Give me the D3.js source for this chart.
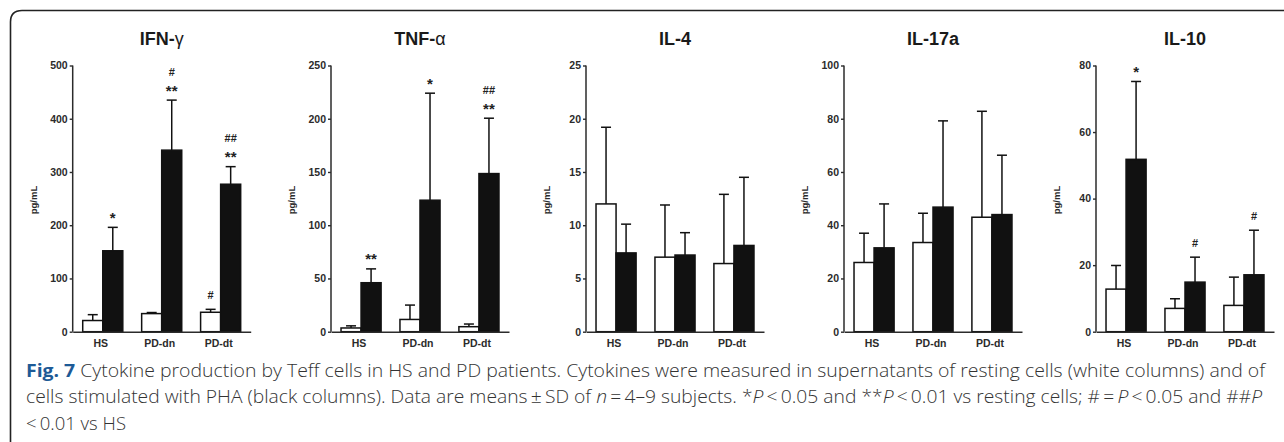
<!DOCTYPE html>
<html>
<head>
<meta charset="utf-8">
<script src="https://cdn.jsdelivr.net/npm/d3@7"></script>
<style>
  body { margin: 0; background: #fff; }
  svg { display: block; }
</style>
</head>
<body>
<div id="chart"></div>
<script>
// categories
const GROUPS = ["HS", "PD-dn", "PD-dt"];
const SERIES = ["rest", "pha"];

// IFN-gamma (pg/mL), mean and SD
const IFNG_REST = [21, 34, 36.5];
const IFNG_REST_SD = [11, 2, 5.5];
const IFNG_PHA = [152, 341, 277];
const IFNG_PHA_SD = [44, 94, 33];
const IFNG_TICKS = [0, 100, 200, 300, 400, 500];

// TNF-alpha
const TNF_REST = [3.5, 11.5, 4.7];
const TNF_REST_SD = [2, 13.5, 2.5];
const TNF_PHA = [46, 123.5, 148.5];
const TNF_PHA_SD = [13, 100.5, 52];
const TNF_TICKS = [0, 50, 100, 150, 200, 250];

// IL-4
const IL4_REST = [12, 7, 6.4];
const IL4_REST_SD = [7.2, 4.9, 6.5];
const IL4_PHA = [7.4, 7.2, 8.1];
const IL4_PHA_SD = [2.7, 2.1, 6.4];
const IL4_TICKS = [0, 5, 10, 15, 20, 25];

// IL-17a
const IL17_REST = [26, 33.5, 43];
const IL17_REST_SD = [11, 11, 39.8];
const IL17_PHA = [31.5, 46.8, 44];
const IL17_PHA_SD = [16.5, 32.4, 22.3];
const IL17_TICKS = [0, 20, 40, 60, 80, 100];

// IL-10
const IL10_REST = [12.8, 7, 7.9];
const IL10_REST_SD = [7.1, 2.9, 8.5];
const IL10_PHA = [51.8, 14.9, 17.1];
const IL10_PHA_SD = [23.4, 7.5, 13.4];
const IL10_TICKS = [0, 20, 40, 60, 80];

// significance marks: [group index, series, labels from bottom up]
const IFNG_MARKS = [[0, "pha", ["*"]], [1, "pha", ["**", "#"]], [2, "rest", ["#"]], [2, "pha", ["**", "##"]]];
const TNF_MARKS = [[0, "pha", ["**"]], [1, "pha", ["*"]], [2, "pha", ["**", "##"]]];
const IL4_MARKS = [];
const IL17_MARKS = [];
const IL10_MARKS = [[0, "pha", ["*"]], [1, "pha", ["#"]], [2, "pha", ["#"]]];

const panels = [
    { title: ["IFN-", "γ"], rest: IFNG_REST, restSd: IFNG_REST_SD, pha: IFNG_PHA, phaSd: IFNG_PHA_SD, ticks: IFNG_TICKS, marks: IFNG_MARKS },
    { title: ["TNF-", "α"], rest: TNF_REST, restSd: TNF_REST_SD, pha: TNF_PHA, phaSd: TNF_PHA_SD, ticks: TNF_TICKS, marks: TNF_MARKS },
    { title: ["IL-4", ""], rest: IL4_REST, restSd: IL4_REST_SD, pha: IL4_PHA, phaSd: IL4_PHA_SD, ticks: IL4_TICKS, marks: IL4_MARKS },
    { title: ["IL-17a", ""], rest: IL17_REST, restSd: IL17_REST_SD, pha: IL17_PHA, phaSd: IL17_PHA_SD, ticks: IL17_TICKS, marks: IL17_MARKS },
    { title: ["IL-10", ""], rest: IL10_REST, restSd: IL10_REST_SD, pha: IL10_PHA, phaSd: IL10_PHA_SD, ticks: IL10_TICKS, marks: IL10_MARKS }
];

// layout
const W = 1284, H = 442;
const AXIS_X = [72.7, 331, 586, 844, 1096];
const PLOT_W = 178;
const Y_TOP = 65.5, Y_BOT = 331.7;
const INK = "#2b2b2b";
const FONT = "'Liberation Sans', Arial, sans-serif";

const svg = d3.select("#chart").append("svg")
    .attr("width", W)
    .attr("height", H);

// frame (left + top edge with rounded corner)
svg.append("path")
    .attr("d", `M10.5,${H} L10.5,22 Q10.5,10.5 22,10.5 L${W},10.5`)
    .attr("fill", "none")
    .attr("stroke", "#222")
    .attr("stroke-width", 1.6);

panels.forEach((p, i) => {
    const g = svg.append("g").attr("transform", `translate(${AXIS_X[i]},0)`);

    const x = d3.scaleBand()
        .domain(GROUPS)
        .range([0, PLOT_W])
        .paddingInner(0.32)
        .paddingOuter(0.17);
    const xs = d3.scaleBand()
        .domain(SERIES)
        .range([0, x.bandwidth()]);
    const y = d3.scaleLinear()
        .domain([0, d3.max(p.ticks)])
        .range([Y_BOT, Y_TOP]);

    // bars data
    const rows = [];
    GROUPS.forEach((grp, gi) => {
        rows.push({ grp, s: "rest", v: p.rest[gi], sd: p.restSd[gi] });
        rows.push({ grp, s: "pha", v: p.pha[gi], sd: p.phaSd[gi] });
    });

    // error bars (upper only)
    const eb = g.selectAll(".err").data(rows).enter().append("g").attr("class", "err")
        .attr("stroke", "#111").attr("stroke-width", 1.5);
    eb.append("line")
        .attr("x1", d => x(d.grp) + xs(d.s) + xs.bandwidth() / 2)
        .attr("x2", d => x(d.grp) + xs(d.s) + xs.bandwidth() / 2)
        .attr("y1", d => y(d.v))
        .attr("y2", d => y(d.v + d.sd));
    eb.append("line")
        .attr("x1", d => x(d.grp) + xs(d.s) + xs.bandwidth() / 2 - 5)
        .attr("x2", d => x(d.grp) + xs(d.s) + xs.bandwidth() / 2 + 5)
        .attr("y1", d => y(d.v + d.sd))
        .attr("y2", d => y(d.v + d.sd));

    // bars
    g.selectAll(".bar").data(rows).enter().append("rect")
        .attr("class", "bar")
        .attr("x", d => x(d.grp) + xs(d.s))
        .attr("y", d => y(d.v))
        .attr("width", xs.bandwidth())
        .attr("height", d => Y_BOT - y(d.v))
        .attr("fill", d => d.s === "pha" ? "#111" : "#fff")
        .attr("stroke", "#111")
        .attr("stroke-width", 1.5);

    // y axis
    const yAxis = g.append("g")
        .call(d3.axisLeft(y).tickValues(p.ticks).tickSize(3).tickPadding(2).tickFormat(d3.format("d")));
    yAxis.select(".domain").attr("stroke", INK).attr("stroke-width", 1.5).attr("d", `M0,${Y_TOP}V${Y_BOT}`);
    yAxis.selectAll(".tick line").attr("stroke", INK).attr("stroke-width", 1.4);
    yAxis.selectAll(".tick text")
        .attr("fill", INK)
        .style("font-family", FONT)
        .style("font-weight", "bold")
        .style("font-size", "10.5px");

    // x axis
    const xAxis = g.append("g")
        .attr("transform", `translate(0,${Y_BOT})`)
        .call(d3.axisBottom(x).tickSize(0).tickPadding(8));
    xAxis.select(".domain").attr("stroke", INK).attr("stroke-width", 1.5);
    xAxis.selectAll(".tick text")
        .attr("dx", -2)
        .attr("fill", INK)
        .style("font-family", FONT)
        .style("font-weight", "bold")
        .style("font-size", "10.5px");

    // y label
    g.append("text")
        .attr("transform", `translate(-36,200) rotate(-90)`)
        .attr("text-anchor", "middle")
        .attr("fill", INK)
        .style("font-family", FONT)
        .style("font-weight", "bold")
        .style("font-size", "9.5px")
        .text("pg/mL");

    // title
    const t = g.append("text")
        .attr("x", PLOT_W / 2)
        .attr("y", 45)
        .attr("text-anchor", "middle")
        .attr("fill", "#1a1a1a")
        .style("font-family", FONT)
        .style("font-size", "18px");
    t.append("tspan").style("font-weight", "bold").text(p.title[0]);
    if (p.title[1]) t.append("tspan").style("font-weight", "normal").text(p.title[1]);

    // significance marks
    p.marks.forEach(([gi, s, labels]) => {
        const grp = GROUPS[gi];
        const v = s === "pha" ? p.pha[gi] + p.phaSd[gi] : p.rest[gi] + p.restSd[gi];
        const cx = x(grp) + xs(s) + xs.bandwidth() / 2;
        labels.forEach((lab, k) => {
            const cy = y(v) - 14 - k * 14.5;
            const star = lab.startsWith("*");
            g.append("text")
                .attr("x", cx)
                .attr("y", star ? cy + 9.5 : cy + 4)
                .attr("text-anchor", "middle")
                .attr("fill", "#222")
                .style("font-family", FONT)
                .style("font-weight", "bold")
                .style("font-size", star ? "15px" : "11px")
                .text(lab);
        });
    });
});

// caption
const CAP_FONT = "'Open Sans', 'Noto Sans', sans-serif";
const cap = svg.append("g")
    .style("font-family", CAP_FONT)
    .style("font-size", "17.5px")
    .style("font-weight", 300)
    .attr("fill", "#333");

const l1 = cap.append("text").attr("x", 26).attr("y", 377)
    .attr("textLength", 1239).attr("lengthAdjust", "spacingAndGlyphs");
l1.append("tspan").attr("fill", "#1d5a96").style("font-weight", "bold").text("Fig. 7");
l1.append("tspan").text(" Cytokine production by Teff cells in HS and PD patients. Cytokines were measured in supernatants of resting cells (white columns) and of");

const l2 = cap.append("text").attr("x", 26).attr("y", 403)
    .attr("textLength", 1236).attr("lengthAdjust", "spacingAndGlyphs");
const parts2 = [
    ["cells stimulated with PHA (black columns). Data are means\u2009±\u2009SD of ", false],
    ["n", true], ["\u2009=\u20094–9 subjects. *", false], ["P", true],
    ["\u2009<\u20090.05 and **", false], ["P", true],
    ["\u2009<\u20090.01 vs resting cells; #\u2009=\u2009", false], ["P", true],
    ["\u2009<\u20090.05 and ##", false], ["P", true]
];
parts2.forEach(([s, it]) => l2.append("tspan").style("font-style", it ? "italic" : "normal").text(s));

cap.append("text").attr("x", 26).attr("y", 430)
    .attr("textLength", 100).attr("lengthAdjust", "spacingAndGlyphs")
    .text("<\u20090.01 vs HS");
</script>
</body>
</html>
